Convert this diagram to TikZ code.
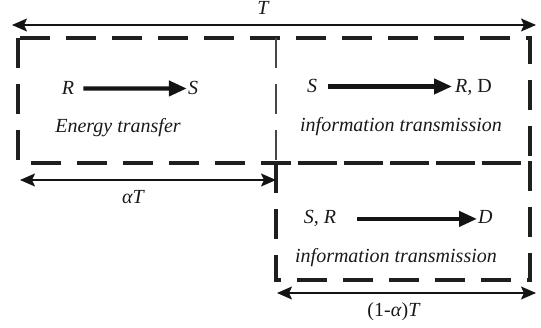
\documentclass[tikz,border=0pt]{standalone}
\usepackage{fontspec}
\setmainfont{Liberation Serif}
\usetikzlibrary{arrows.meta}
\begin{document}
\begin{tikzpicture}[x=1pt,y=-1pt,
  lbl/.style={font=\fontsize{20}{23}\selectfont\itshape, inner sep=0pt, anchor=base, text=black!90},
  box/.style={line width=3.4pt, dash pattern=on 30pt off 16pt, draw=black!88},
  divider/.style={line width=2.8pt, dash pattern=on 30pt off 16pt, draw=black!72},
  bigarrow/.style={line width=4.2pt, draw=black!92, -{Triangle[length=18pt,width=15pt]}},
  dim/.style={line width=1.8pt, draw=black!92, {Stealth[length=15pt,width=13pt,inset=3pt]}-{Stealth[length=15pt,width=13pt,inset=3pt]}}]
\useasboundingbox (0,0) rectangle (541,328);

% boxes
\draw[box] (18,38) rectangle (530,163);
\draw[divider] (276,38) -- (276,163);
\draw[box] (276,163) rectangle (530,280);

% dimension arrows
\coordinate (tl) at (12,25);
\coordinate (tr) at (536,25);
\coordinate (al) at (20,180);
\coordinate (ar) at (276,180);
\coordinate (bl) at (277,293);
\coordinate (br) at (536,293);
\draw[dim] (tl) -- (tr);
\draw[dim] (al) -- (ar);
\draw[dim] (bl) -- (br);
\node[lbl] (T) at (263,15) {T};
\node[lbl] (aT) at (133,204) {αT};
\node[lbl] (omaT) at (394,317) {\upshape (1-\textit{α})\textit{T}};

% left box
\node[lbl] (R1) at (68,95) {R};
\node[lbl] (S1) at (193,95) {S};
\node[lbl] (et) at (118,133) {Energy transfer};
\draw[bigarrow] ([xshift=9pt]R1.east) -- ([xshift=-1pt]S1.west);

% right top box
\node[lbl] (S2) at (312,93) {S};
\node[lbl, anchor=base west] (RD) at (455,93) {R,\upshape\ D};
\node[lbl] (it1) at (401,132) {information transmission};
\draw[bigarrow] ([xshift=11pt]S2.east) -- ([xshift=-3pt]S2.east -| RD.west);

% bottom box
\node[lbl] (SR) at (320,224) {S, R};
\node[lbl, anchor=base west] (D) at (478,224) {D};
\node[lbl] (it2) at (396,263) {information transmission};
\draw[bigarrow] ([xshift=21pt]SR.east) -- ([xshift=-1pt]SR.east -| D.west);
\end{tikzpicture}
\end{document}
